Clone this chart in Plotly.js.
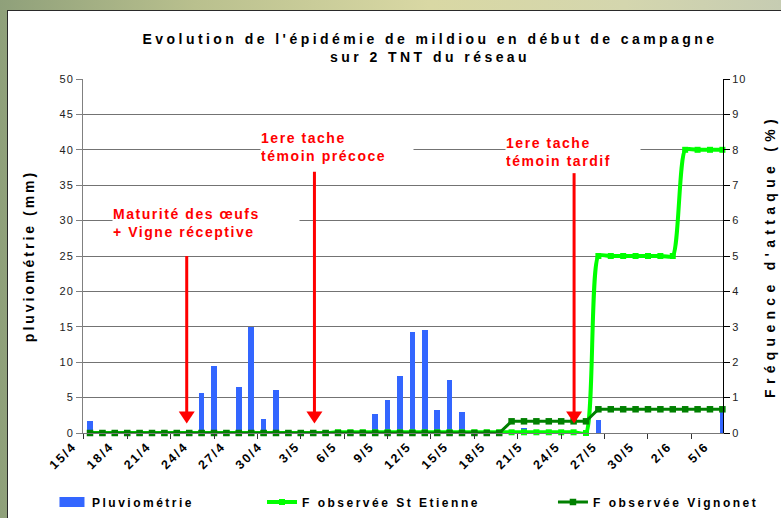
<!DOCTYPE html>
<html><head><meta charset="utf-8">
<script src="https://cdn.plot.ly/plotly-3.0.1.min.js"></script>
<style>
html,body{margin:0;padding:0;width:781px;height:518px;overflow:hidden;}
body{background:linear-gradient(90deg,#8fa07a 0%,#b9c08e 25%,#d9d8a4 55%,#d4d6ae 80%,#c6ccb2 100%);}
#chart{position:absolute;left:7px;top:10px;width:773px;height:507px;border-top:1px solid #2a2a2a;border-left:1px solid #2a2a2a;background:#fff;}
#chart text{letter-spacing:2.5px;}
#chart .gtitle{letter-spacing:3.45px;}
#chart .ytitle{letter-spacing:3px;}
#chart .y2title{letter-spacing:5.3px;}
#chart .annotation-text{letter-spacing:1.55px;}
#chart .xtick text{letter-spacing:2px;}
#chart .ytick text,#chart .y2tick text{letter-spacing:1px;}
</style></head>
<body><div id="chart"></div>
<script>
const dates = ['15/4','16/4','17/4','18/4','19/4','20/4','21/4','22/4','23/4','24/4','25/4','26/4','27/4','28/4','29/4','30/4',
 '1/5','2/5','3/5','4/5','5/5','6/5','7/5','8/5','9/5','10/5','11/5','12/5','13/5','14/5','15/5','16/5','17/5','18/5','19/5','20/5',
 '21/5','22/5','23/5','24/5','25/5','26/5','27/5','28/5','29/5','30/5','31/5','1/6','2/6','3/6','4/6','5/6'];
const tickLabels = ['15/4','18/4','21/4','24/4','27/4','30/4','3/5','6/5','9/5','12/5','15/5','18/5','21/5','24/5','27/5','30/5','2/6','5/6'];
const pluviometrie = [1.7,0,0,0,0,0,0,0,0,5.6,9.4,0,6.5,15.0,2.0,6.1,
 0,0,0,0,0,0,0,2.7,4.7,8.0,14.2,14.5,3.2,7.5,2.9,0,0,0,0,0.7,
 0,0,0,0,0,1.9,0,0,0,0,0,0,0,0,0,3.1];
const stEtienne = [0,0,0,0,0,0,0,0,0,0,0,0,0,0,0,0,0,0,0,0,
 0.02,0.02,0.02,0.02,0.02,0.02,0.02,0.02,0.02,0.02,0.02,0.02,0.02,0.02,0.02,0.02,0.02,0.02,0.02,0.02,
 0,5,5,5,5,5,5,5,8,8,8,8];
const vignonet = [0,0,0,0,0,0,0,0,0,0,0,0,0,0,0,0,0,0,0,0,0,0,0,0,0,0,0,0,0,0,0,0,0,0,
 0.33,0.33,0.33,0.33,0.33,0.33,0.33,
 0.67,0.67,0.67,0.67,0.67,0.67,0.67,0.67,0.67,0.67,0.67];
const seriesNames = ['Pluviométrie','F observée St Etienne','F observée Vignonet'];
const notes = ['Maturité des œufs<br>+ Vigne réceptive','1ere tache<br>témoin précoce','1ere tache<br>témoin tardif'];
const chartTitle = ["Evolution de l'épidémie de mildiou en début de campagne", 'sur 2 TNT du réseau'];
const yTitle = 'pluviométrie (mm)';
const y2Title = "Fréquence d'attaque (%)";

const b = s => '<b>' + s + '</b>';
const idx = dates.map((d,i)=>i);
const tickvals = tickLabels.map(l=>dates.indexOf(l));
const FONT = 'Liberation Sans, Arial, sans-serif';

const traces = [
 {type:'bar', x:idx, y:pluviometrie, name:b(seriesNames[0]), width:0.45, marker:{color:'#3366ff'}, legend:'legend', yaxis:'y', showlegend:true},
 {type:'scatter', mode:'lines+markers', x:idx, y:stEtienne, name:b(seriesNames[1]), yaxis:'y2', legend:'legend2', showlegend:true,
  line:{color:'#00ff00', width:4, shape:'spline', smoothing:0.6}, marker:{symbol:'square', size:6, color:'#00ff00'}, cliponaxis:false},
 {type:'scatter', mode:'lines+markers', x:idx, y:vignonet, name:b(seriesNames[2]), yaxis:'y2', legend:'legend3', showlegend:true,
  line:{color:'#008000', width:3}, marker:{symbol:'square', size:6.5, color:'#008000'}, cliponaxis:false}
];

// arrow layout (x in day index, y in mm)
const arrowDefs = [{x:7.8, top:25.0}, {x:18.1, top:36.9}, {x:39.04, top:36.7}];
const TIP = 1.34;
const shapes = [];
arrowDefs.forEach(a=>{
 shapes.push({type:'line', xref:'x', yref:'y', x0:a.x, x1:a.x, y0:a.top, y1:TIP+0.9, line:{color:'#ff0000', width:3}});
 shapes.push({type:'path', xref:'x', yref:'y', xsizemode:'pixel', ysizemode:'pixel', xanchor:a.x, yanchor:TIP,
  path:'M-8,12L8,12L0,0Z', fillcolor:'#ff0000', line:{width:0}});
});

const noteBoxes = [{x:0.0453, y:0.594, w:186}, {x:0.2766, y:0.8085, w:152}, {x:0.659, y:0.795, w:134}];
const annotations = notes.map((t,i)=>({xref:'paper', yref:'paper', x:noteBoxes[i].x, y:noteBoxes[i].y, xanchor:'left', yanchor:'middle',
 text:b(t.replace('<br>','</b><br><b>')), showarrow:false, align:'left', width:noteBoxes[i].w, bgcolor:'#ffffff', borderpad:0,
 font:{family:FONT, size:14, color:'#ff0000'}}));

const legendBase = {xref:'container', yref:'container', y:0.0316, xanchor:'left', yanchor:'middle', orientation:'h',
 entrywidth:210, entrywidthmode:'pixels',
 font:{family:FONT, size:12, color:'#000'}, bgcolor:'rgba(0,0,0,0)'};

const layout = {
 width:773, height:507,
 margin:{l:75, r:58, t:67.5, b:84.5},
 paper_bgcolor:'#ffffff', plot_bgcolor:'#ffffff',
 font:{family:FONT, color:'#000'},
 showlegend:true,
 title:{text:b(chartTitle[0]) + '<br>' + b(chartTitle[1]),
  font:{family:FONT, size:14, color:'#000'}, xref:'container', x:0.546, xanchor:'center', yref:'container', y:0.935, yanchor:'top'},
 xaxis:{type:'linear', range:[-0.565, 51.05], tickmode:'array', tickvals:tickvals, ticktext:tickLabels.map(b), tickangle:-45,
  ticks:'', ticklabelshift:-17, tickfont:{family:FONT, size:12.5, color:'#000'},
  showgrid:false, zeroline:false, showline:true, linecolor:'#777',
  minor:{tickmode:'linear', tick0:-0.5, dtick:3.5, ticks:'outside', ticklen:5, tickcolor:'#333', tickwidth:1, showgrid:false}},
 yaxis:{range:[0,50], tickmode:'linear', tick0:0, dtick:5, ticks:'outside', ticklen:6, tickcolor:'#808080',
  showline:true, linecolor:'#808080', showgrid:true, gridcolor:'#737373', zeroline:false,
  tickfont:{family:FONT, size:11, color:'#222'},
  title:{text:b(yTitle), font:{family:FONT, size:14, color:'#000'}, standoff:23}},
 yaxis2:{overlaying:'y', side:'right', range:[0,10], tickmode:'linear', tick0:0, dtick:1, ticks:'outside', ticklen:6, tickcolor:'#000',
  showline:true, linecolor:'#000', showgrid:false, zeroline:false,
  tickfont:{family:FONT, size:11, color:'#222'},
  title:{text:b(y2Title), font:{family:FONT, size:14, color:'#000'}, standoff:21}},
 legend:Object.assign({}, legendBase, {x:0.0569}),
 legend2:Object.assign({}, legendBase, {x:0.3286}),
 legend3:Object.assign({}, legendBase, {x:0.705}),
 shapes:shapes,
 annotations:annotations,
 bargap:0
};

Plotly.newPlot('chart', traces, layout, {displayModeBar:false, staticPlot:true}).then(gd=>{
 // widen the bar legend swatch to the flat rectangle of the original
 gd.querySelectorAll('.legend .legendpoints path.legendundefined, .legend .legendbar path').forEach(p=>{
  p.setAttribute('d','M12.5,5H-12.5V-5H12.5Z');
 });
});
</script>
</body></html>
